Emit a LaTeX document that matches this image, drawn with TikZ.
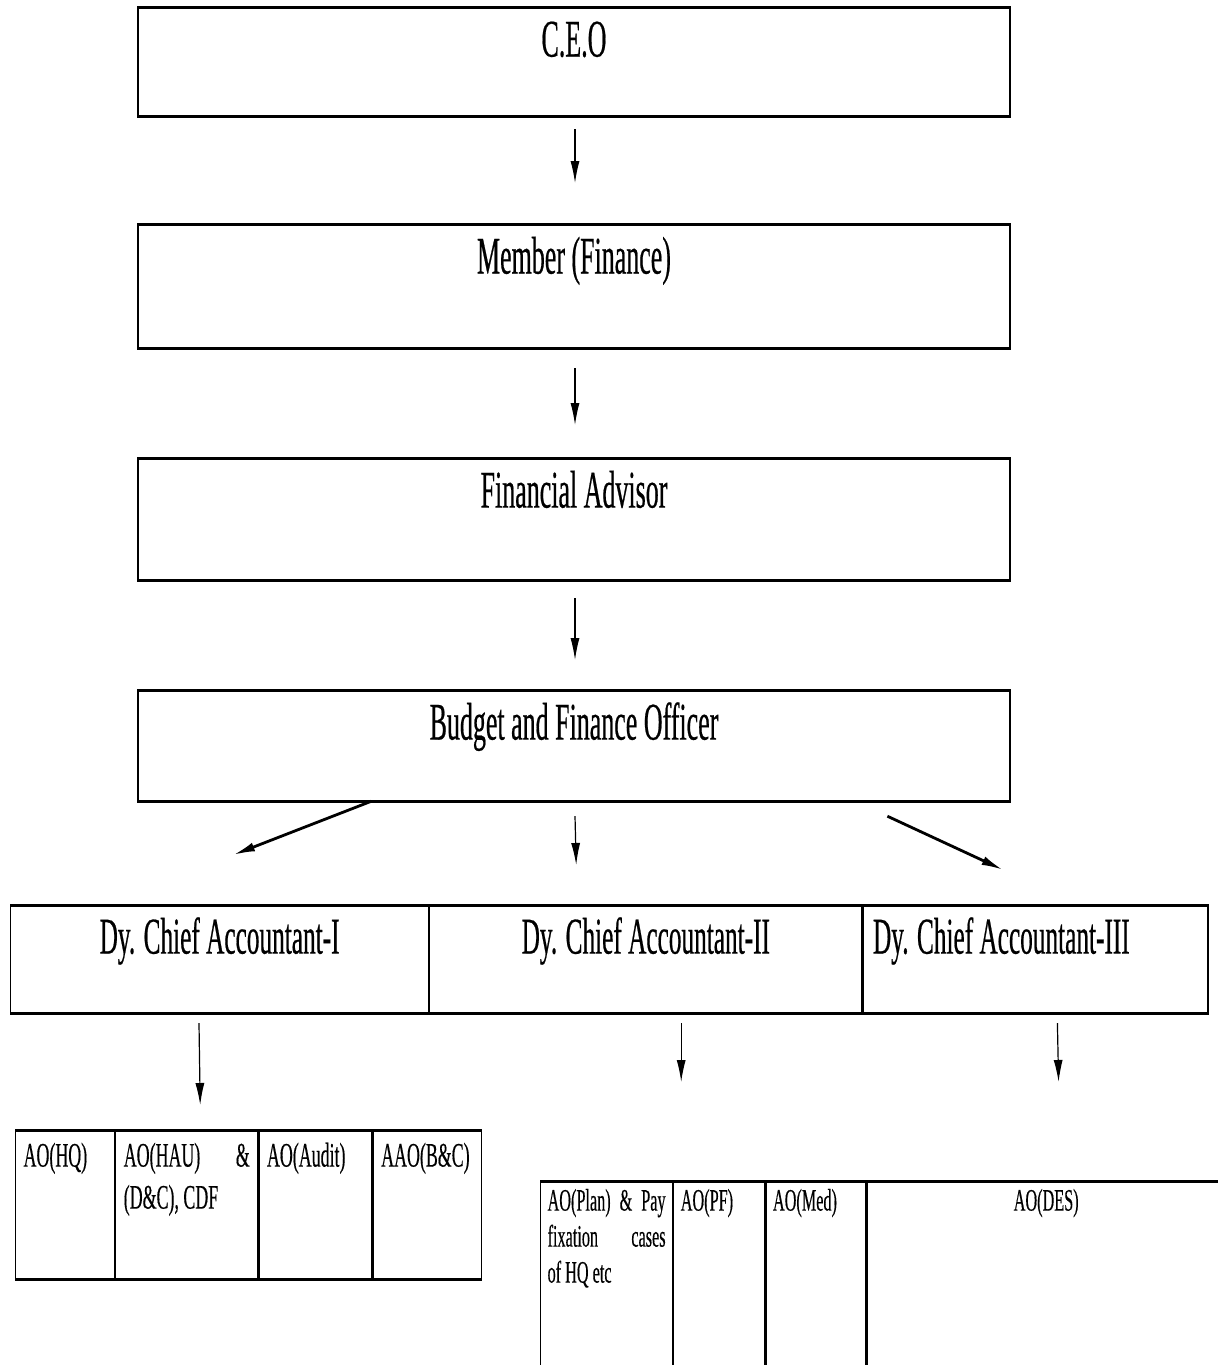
\documentclass[tikz,border=0pt]{standalone}
\usepackage{fontspec}
\setmainfont[FakeStretch=0.49, FakeBold=0.4]{Liberation Serif}
\newfontfamily\cellfont[FakeStretch=0.52, FakeBold=0.3]{Liberation Serif}
\usetikzlibrary{arrows.meta, calc, positioning}

\begin{document}
\begin{tikzpicture}[x=0.5pt, y=-0.5pt, line width=0.6pt,
  post/.style={draw, inner sep=0pt, align=flush center, text width=436pt, text height=24.5pt, font=\fontsize{26.5pt}{30pt}\selectfont},
  deputy/.style={draw, inner sep=0pt, align=flush center, text height=24pt, text depth=29.5pt, font=\fontsize{25.8pt}{30pt}\selectfont},
  cell/.style={draw, anchor=north west, inner xsep=4pt, inner ysep=0pt, align=justify, text height=18pt, text depth=56pt, font=\cellfont\fontsize{17.2pt}{21pt}\selectfont},
  subcell/.style={cell, inner xsep=3.5pt, text height=14.5pt, text depth=86pt, font=\cellfont\fontsize{15.6pt}{18pt}\selectfont},
  down/.style={-{Latex[length=11pt, width=4.5pt]}},
  slant/.style={down, line width=1.4pt}]
  \useasboundingbox (0,0) rectangle (1218,1365);
  \clip (0,0) rectangle (1218,1365);

  % chain of command
  \node[post, text depth=29.5pt, anchor=north] (ceo) at (574,7) {C.E.O};
  \node[post, text depth=37pt, anchor=north] (member) at (574,224) {Member (Finance)};
  \node[post, text depth=36pt, anchor=north] (fa) at (574,458) {Financial Advisor};
  \node[post, text depth=30.5pt, anchor=north] (bfo) at (574,690) {Budget and Finance Officer};

  % deputies
  \node[deputy, text width=209pt, anchor=north west] (dca1) at (10,905) {Dy. Chief Accountant-I};
  \node[deputy, text width=216pt, right=0pt of dca1] (dca2) {Dy. Chief Accountant-II};
  \node[deputy, text width=162.5pt, inner xsep=5pt, align=flush left, right=0pt of dca2] (dca3) {Dy. Chief Accountant-III};

  % sections under Dy. CA-I
  \node[cell, text width=41.5pt] (hq) at (15,1130) {AO(HQ)};
  \node[cell, text width=63pt, right=0pt of hq] (hau) {AO(HAU)\hfill\&\\(D\&C), CDF};
  \node[cell, text width=48.5pt, right=0pt of hau] (audit) {AO(Audit)};
  \node[cell, text width=46pt, right=0pt of audit] (bc) {AAO(B\&C)};

  % sections under Dy. CA-II and III
  \node[subcell, text width=59pt] (plan) at (540,1181) {AO(Plan)\hfill\&\hfill Pay\\fixation\hfill cases\\of HQ etc};
  \node[subcell, text width=38.5pt, right=0pt of plan] (pf) {AO(PF)};
  \node[subcell, text width=43pt, right=0pt of pf] (med) {AO(Med)};
  \node[subcell, text width=172pt, align=flush center, right=0pt of med] (des) {AO(DES)};

  \foreach \n in {ceo, member, fa, bfo, dca1, dca2, dca3, hq, hau, audit, bc, plan, pf, med, des}
    \draw[line width=1.5pt] (\n.north west) -- (\n.north east) (\n.south west) -- (\n.south east);

  % arrows
  \draw[down] ($(ceo.south)+(1,13)$) -- ($(member.north)+(1,-41)$);
  \draw[down] ($(member.south)+(1,20)$) -- ($(fa.north)+(1,-33)$);
  \draw[down] ($(fa.south)+(1,18)$) -- ($(bfo.north)+(1,-30)$);
  \draw[slant] ($(bfo.south west)+(234,0)$) -- ($(dca1.north west)+(223,-50)$);
  \draw[down] ($(bfo.south)+(1,15)$) -- ($(dca2.north west)+(147,-40)$);
  \draw[slant] ($(bfo.south west)+(750,15)$) -- ($(dca3.north west)+(141,-35)$);
  \draw[down] ($(dca1.south west)+(189,10)$) -- ($(hau.north west)+(85,-25)$);
  \draw[down] ($(dca2.south west)+(252,10)$) -- ($(pf.north west)+(8,-99)$);
  \draw[down] ($(dca3.south west)+(195,10)$) -- ($(des.north west)+(192,-99)$);
\end{tikzpicture}
\end{document}
